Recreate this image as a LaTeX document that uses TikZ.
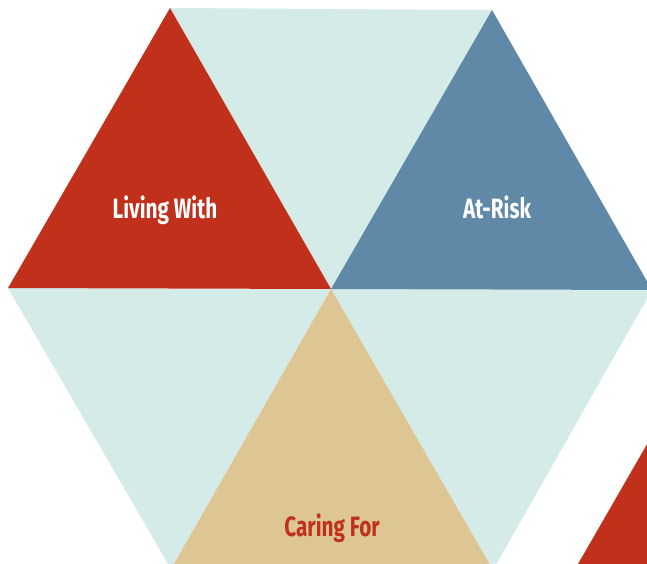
\documentclass[tikz,border=0pt]{standalone}
\usepackage{fontspec}
\setsansfont{Fira Sans}
\usepackage{tikz}
\usetikzlibrary{positioning}

\definecolor{hexred}{HTML}{C0301A}
\definecolor{hexteal}{HTML}{D4EBE7}
\definecolor{hexblue}{HTML}{6089A8}
\definecolor{hexsand}{HTML}{DDC594}

\tikzset{
  label text/.style={font=\sffamily\bfseries\fontsize{28}{28}\selectfont, xscale=0.74, inner sep=0pt, anchor=base},
}

\begin{document}
\begin{tikzpicture}[x=1pt,y=-1pt]
\useasboundingbox (0,0) rectangle (647,564);
\clip (0,0) rectangle (647,564);
% hexagon corners
\coordinate (c)  at (331,289);
\coordinate (tl) at (170,8);
\coordinate (tr) at (492,10);
\coordinate (r)  at (652,290);
\coordinate (br) at (493,570);
\coordinate (bl) at (171,569);
\coordinate (l)  at (8,288);
% the six triangles
\fill[hexteal] (tl)--(tr)--(c)--cycle;
\fill[hexteal] (l)--(c)--(bl)--cycle;
\fill[hexteal] (c)--(r)--(br)--cycle;
\fill[hexred]  (tl)--(c)--(l)--cycle;
\fill[hexblue] (tr)--(r)--(c)--cycle;
\fill[hexsand] (c)--(br)--(bl)--cycle;
% next hexagon, corner only
\coordinate (nx) at (578,564);
\fill[hexred] (nx)--(722,314)--(722,564)--cycle;

\node[label text, text=white] (living) at (165,218) {Living With};
\node[label text, text=white] (risk) at (497,218) {At-Risk};
\node[label text, text=hexred] (caring) at (332,536) {Caring For};
\end{tikzpicture}
\end{document}
